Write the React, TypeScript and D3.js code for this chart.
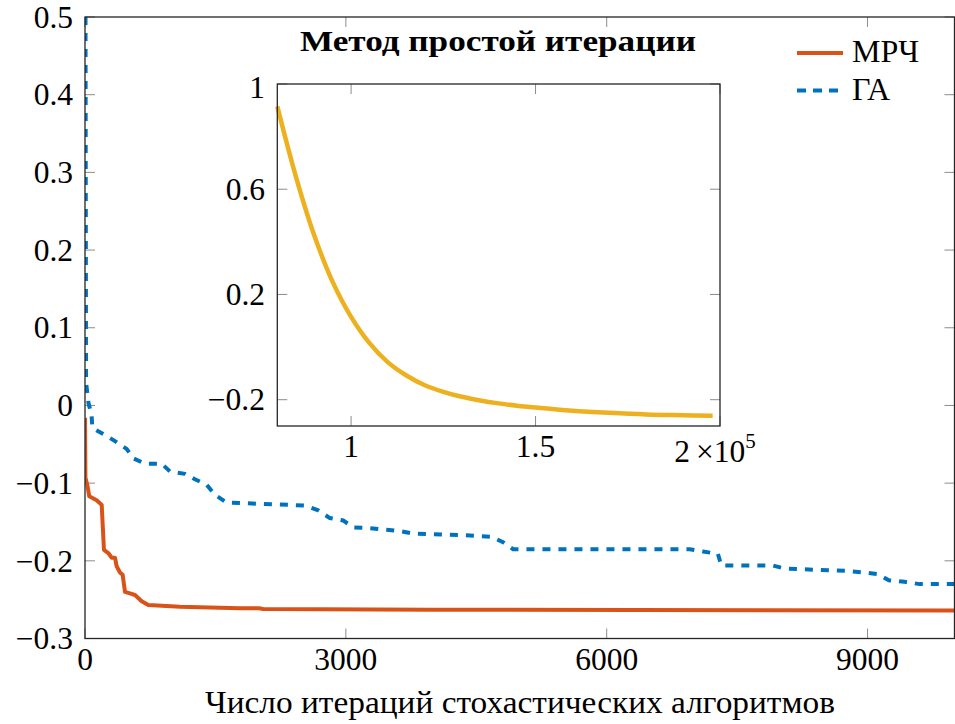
import * as d3 from 'd3';
import React from 'react';

// main plot data
const mrchX = [0, 5, 26, 49, 134, 192, 218, 268, 307, 345, 364, 402, 433, 460, 517, 575, 652, 728, 1092, 1782, 2000, 2050, 4000, 10000];
const mrchY = [-0.016, -0.093, -0.102, -0.117, -0.122, -0.128, -0.186, -0.19, -0.196, -0.196, -0.207, -0.215, -0.218, -0.24, -0.242, -0.244, -0.252, -0.257, -0.259, -0.261, -0.261, -0.262, -0.263, -0.264];

const gaX = [6, 10, 12, 40, 75, 85, 230, 345, 479, 555, 690, 882, 977, 1149, 1264, 1399, 1494, 1629, 2356, 2529, 2682, 2816, 2969, 3084, 3276, 3468, 3640, 3774, 4348, 4502, 4675, 4808, 4923, 6954, 7107, 7279, 7318, 7912, 8046, 8755, 8946, 9118, 9245, 9425, 9598, 10000];
const gaY = [0.5, 0.2, 0.03, 0.003, -0.012, -0.029, -0.038, -0.046, -0.056, -0.068, -0.075, -0.075, -0.085, -0.088, -0.095, -0.102, -0.115, -0.125, -0.128, -0.129, -0.135, -0.145, -0.148, -0.157, -0.158, -0.16, -0.162, -0.165, -0.167, -0.168, -0.169, -0.176, -0.185, -0.185, -0.188, -0.191, -0.206, -0.206, -0.21, -0.213, -0.215, -0.217, -0.225, -0.227, -0.23, -0.23];

// inset: simple iteration method (x in units of 1e5)
const insetX = [0.8, 0.85, 0.9, 0.95, 1.0, 1.05, 1.1, 1.15, 1.2, 1.25, 1.3, 1.35, 1.4, 1.45, 1.5, 1.6, 1.7, 1.8, 1.9, 1.98];
const insetY = [0.915, 0.65, 0.425, 0.248, 0.115, 0.015, -0.058, -0.108, -0.145, -0.17, -0.189, -0.203, -0.214, -0.223, -0.23, -0.242, -0.25, -0.256, -0.259, -0.261];

const mainXTicks = [0, 3000, 6000, 9000];
const mainYTicks = [-0.3, -0.2, -0.1, 0, 0.1, 0.2, 0.3, 0.4, 0.5];
const insetXTicks = [1, 1.5, 2];
const insetYTicks = [-0.2, 0.2, 0.6, 1];

const seriesNames = ['МРЧ', 'ГА'];
const insetTitle = 'Метод простой итерации';
const xLabel = 'Число итераций стохастических алгоритмов';

const ORANGE = '#D95319';
const BLUE = '#0072BD';
const YELLOW = '#EDB120';
const FONT = "'Liberation Serif', serif";

const fmt = (v: number) => {
  const s = String(Math.round(v * 10) / 10);
  return s.replace('-', '−');
};

const App = () => {
  const W = 955;
  const H = 724;
  const m = { left: 85, right: 954.5, top: 17, bottom: 638.5 };
  const ins = { left: 277.3, right: 720, top: 84, bottom: 426 };

  const x = d3.scaleLinear().domain([0, 10000]).range([m.left, m.right]);
  const y = d3.scaleLinear().domain([-0.3, 0.5]).range([m.bottom, m.top]);
  const ix = d3.scaleLinear().domain([0.8, 2.0]).range([ins.left, ins.right]);
  const iy = d3.scaleLinear().domain([-0.3, 1]).range([ins.bottom, ins.top]);

  const mainLine = d3
    .line<[number, number]>()
    .x((d) => x(d[0]))
    .y((d) => y(d[1]));
  const insetLine = d3
    .line<[number, number]>()
    .x((d) => ix(d[0]))
    .y((d) => iy(d[1]))
    .curve(d3.curveCatmullRom);

  const mrch = mrchX.map((v, i) => [v, mrchY[i]] as [number, number]);
  const ga = gaX.map((v, i) => [v, gaY[i]] as [number, number]);
  const inset = insetX.map((v, i) => [v, insetY[i]] as [number, number]);

  const tickColor = '#8c8c8c';
  const tl = 10;
  const fs = 31.5;

  return (
    <svg width={W} height={H} style={{ position: 'absolute', left: 0, top: 0, background: '#fff', fontFamily: FONT }}>
      <rect x={0} y={0} width={W} height={H} fill="#fff" />
      <defs>
        <clipPath id="mainClip">
          <rect x={m.left} y={m.top - 2} width={m.right - m.left} height={m.bottom - m.top + 4} />
        </clipPath>
      </defs>

      {/* main ticks */}
      {mainXTicks.map((t) => (
        <g key={'mx' + t}>
          <line x1={x(t)} x2={x(t)} y1={m.bottom} y2={m.bottom - tl} stroke={tickColor} />
          <line x1={x(t)} x2={x(t)} y1={m.top} y2={m.top + tl} stroke={tickColor} />
          <text x={x(t)} y={670} textAnchor="middle" fontSize={fs}>
            {t}
          </text>
        </g>
      ))}
      {mainYTicks.map((t) => (
        <g key={'my' + t}>
          <line x1={m.left} x2={m.left + tl} y1={y(t)} y2={y(t)} stroke={tickColor} />
          <line x1={m.right} x2={m.right - tl} y1={y(t)} y2={y(t)} stroke={tickColor} />
          <text x={73} y={y(t)} dy="0.34em" textAnchor="end" fontSize={fs}>
            {fmt(t)}
          </text>
        </g>
      ))}

      {/* series */}
      <g clipPath="url(#mainClip)">
        <path d={mainLine(ga) || ''} fill="none" stroke={BLUE} strokeWidth={4} strokeDasharray="8 8" />
        <path d={mainLine(mrch) || ''} fill="none" stroke={ORANGE} strokeWidth={4} strokeLinejoin="round" />
      </g>

      <rect x={m.left} y={m.top} width={m.right - m.left} height={m.bottom - m.top} fill="none" stroke="#262626" strokeWidth={1.3} />

      <text x={520} y={713} textAnchor="middle" fontSize={fs} textLength={630} lengthAdjust="spacingAndGlyphs">
        {xLabel}
      </text>

      {/* legend */}
      <line x1={797} x2={843} y1={53} y2={53} stroke={ORANGE} strokeWidth={4} />
      <text x={852} y={62} fontSize={32}>
        {seriesNames[0]}
      </text>
      <line x1={797} x2={841} y1={90.5} y2={90.5} stroke={BLUE} strokeWidth={4} strokeDasharray="9 7" />
      <text x={852} y={100} fontSize={32}>
        {seriesNames[1]}
      </text>

      {/* inset */}
      <text x={498} y={51} textAnchor="middle" fontSize={30} fontWeight="bold" textLength={396} lengthAdjust="spacingAndGlyphs">
        {insetTitle}
      </text>
      <rect x={ins.left} y={ins.top} width={ins.right - ins.left} height={ins.bottom - ins.top} fill="#fff" />
      {insetXTicks.map((t) => (
        <g key={'ix' + t}>
          <line x1={ix(t)} x2={ix(t)} y1={ins.bottom} y2={ins.bottom - tl} stroke={tickColor} />
          <line x1={ix(t)} x2={ix(t)} y1={ins.top} y2={ins.top + tl} stroke={tickColor} />
          {t < 2 ? (
            <text x={ix(t)} y={457} textAnchor="middle" fontSize={fs}>
              {t}
            </text>
          ) : (
            <text x={ix(t) - 38} y={462} textAnchor="middle" fontSize={fs}>
              {t}
            </text>
          )}
        </g>
      ))}
      <text x={696} y={462} fontSize={fs}>
        ×10
        <tspan dy={-14} fontSize={21}>
          5
        </tspan>
      </text>
      {insetYTicks.map((t) => (
        <g key={'iy' + t}>
          <line x1={ins.left} x2={ins.left + tl} y1={iy(t)} y2={iy(t)} stroke={tickColor} />
          <line x1={ins.right} x2={ins.right - tl} y1={iy(t)} y2={iy(t)} stroke={tickColor} />
          <text x={265} y={t === 1 ? iy(t) + 3 : iy(t)} dy="0.34em" textAnchor="end" fontSize={fs}>
            {fmt(t)}
          </text>
        </g>
      ))}
      <path d={insetLine(inset) || ''} fill="none" stroke={YELLOW} strokeWidth={4.5} />
      <rect x={ins.left} y={ins.top} width={ins.right - ins.left} height={ins.bottom - ins.top} fill="none" stroke="#262626" strokeWidth={1.3} />
    </svg>
  );
};

export default App;
